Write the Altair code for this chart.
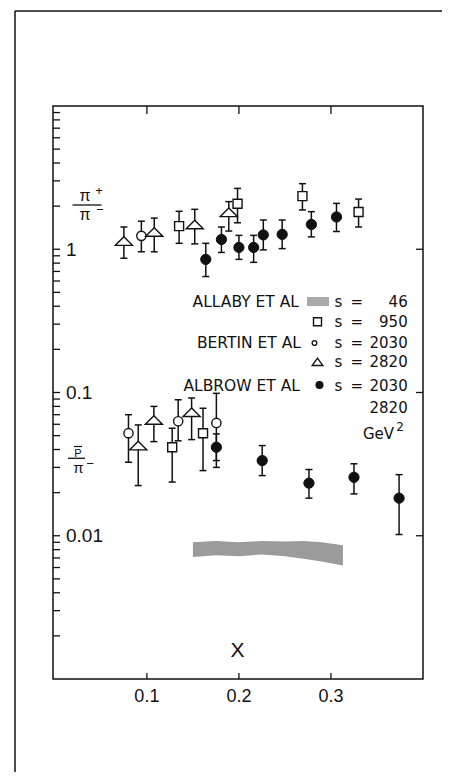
import altair as alt
import pandas as pd

# ---------------- data ----------------
# open squares, s = 950 (pi+/pi- then pbar/pi-)
sq_x = [0.135, 0.1985, 0.269, 0.330, 0.1275, 0.161]
sq_y = [1.45, 2.08, 2.35, 1.82, 0.0415, 0.052]
sq_lo = [1.10, 1.53, 1.88, 1.43, 0.0237, 0.0285]
sq_hi = [1.84, 2.66, 2.87, 2.24, 0.0563, 0.0776]

# open circles, BERTIN s = 2030
oc_x = [0.094, 0.080, 0.134, 0.1755]
oc_y = [1.24, 0.052, 0.063, 0.0613]
oc_lo = [0.96, 0.0326, 0.046, 0.030]
oc_hi = [1.57, 0.070, 0.089, 0.0987]

# open triangles, BERTIN s = 2820
tr_x = [0.075, 0.108, 0.152, 0.189, 0.0906, 0.1076, 0.1486]
tr_y = [1.14, 1.32, 1.49, 1.81, 0.0426, 0.0643, 0.0728]
tr_lo = [0.865, 0.96, 1.09, 1.34, 0.0224, 0.0454, 0.0469]
tr_hi = [1.43, 1.65, 1.90, 2.15, 0.0594, 0.080, 0.0916]

# filled circles, ALBROW s = 2030 / 2820
fc_x = [0.164, 0.181, 0.200, 0.216, 0.2265, 0.247, 0.2787, 0.306,
        0.1755, 0.2253, 0.2761, 0.325, 0.374]
fc_y = [0.85, 1.17, 1.03, 1.03, 1.26, 1.27, 1.49, 1.68,
        0.0415, 0.0335, 0.0233, 0.0256, 0.0183]
fc_lo = [0.645, 0.95, 0.85, 0.81, 0.99, 1.01, 1.22, 1.33,
         0.0335, 0.0263, 0.0183, 0.0196, 0.0102]
fc_hi = [1.10, 1.43, 1.25, 1.25, 1.60, 1.60, 1.83, 2.09,
         0.0514, 0.0426, 0.029, 0.0318, 0.0267]

# ALLABY s = 46 band (pbar/pi-)
band_x = [0.150, 0.175, 0.200, 0.225, 0.250, 0.270, 0.290, 0.313]
band_lo = [0.0071, 0.0073, 0.0072, 0.0074, 0.0072, 0.0069, 0.0066, 0.0062]
band_hi = [0.0090, 0.0092, 0.0090, 0.0092, 0.0091, 0.0092, 0.0090, 0.0086]

x_tick_vals = [0.1, 0.2, 0.3]
x_tick_labels = ["0.1", "0.2", "0.3"]
y_major_vals = [1, 0.1, 0.01]
y_major_labels = ["1", "0.1", "0.01"]
y_minor_vals = [m * 10.0 ** e for e in (-3, -2, -1, 0) for m in range(2, 10)] + [0.01, 0.1, 1]

legend_groups = ["ALLABY ET AL", "BERTIN ET AL", "ALBROW ET AL"]
legend_s = ["46", "950", "2030", "2820", "2030", "2820"]

# ---------------- styling ----------------
INK = "#111111"
W, H = 370, 573
OX, OY = 53, 106  # page position of plot origin
AX = "Liberation Sans"
LF = "DejaVu Sans"

xs = alt.Scale(domain=[-0.002, 0.4], nice=False, zero=False)
ys = alt.Scale(type="log", domain=[0.001, 10], nice=False)
dummy = pd.DataFrame({"a": [0]})


def X(f):
    return alt.X(f, type="quantitative", scale=xs, axis=None)


def Y(f):
    return alt.Y(f, type="quantitative", scale=ys, axis=None)


def Y2(f):
    return alt.Y2(f)


def series(xv, yv, lo, hi):
    return pd.DataFrame({"x": xv, "y": yv, "lo": lo, "hi": hi})


def errlayers(df):
    bar = alt.Chart(df).mark_rule(color=INK, strokeWidth=1.5).encode(
        x=X("x"), y=Y("lo"), y2=Y2("hi"))
    cap1 = alt.Chart(df).mark_point(shape="stroke", size=49, color=INK,
                                    strokeWidth=1.5, opacity=1).encode(x=X("x"), y=Y("lo"))
    cap2 = alt.Chart(df).mark_point(shape="stroke", size=49, color=INK,
                                    strokeWidth=1.5, opacity=1).encode(x=X("x"), y=Y("hi"))
    return [bar, cap1, cap2]


def txt(t, px, py, size=15, align="left", font=LF, baseline="alphabetic"):
    return alt.Chart(dummy).mark_text(
        text=t, align=align, baseline=baseline, fontSize=size, font=font, color=INK
    ).encode(x=alt.value(px - OX), y=alt.value(py - OY))


def hline(x1, x2, py, w=1.3):
    return alt.Chart(dummy).mark_rule(color=INK, strokeWidth=w).encode(
        x=alt.value(x1 - OX), x2=alt.value(x2 - OX), y=alt.value(py - OY))


def sym(px, py, shape, size, filled=False, sw=1.4):
    return alt.Chart(dummy).mark_point(
        shape=shape, size=size, filled=filled, fill=INK if filled else "white",
        stroke=INK, strokeWidth=sw, opacity=1
    ).encode(x=alt.value(px - OX), y=alt.value(py - OY))


TRI = "M-1,0.5L0,-0.5L1,0.5Z"
TRI_L = "M-1,0.75L0,-0.65L1,0.75Z"

sq = series(sq_x, sq_y, sq_lo, sq_hi)
oc = series(oc_x, oc_y, oc_lo, oc_hi)
tr = series(tr_x, tr_y, tr_lo, tr_hi)
fc = series(fc_x, fc_y, fc_lo, fc_hi)
band = pd.DataFrame({"x": band_x, "lo": band_lo, "hi": band_hi})

layers = []

# outer figure frame
layers.append(alt.Chart(dummy).mark_rule(color=INK, strokeWidth=1.5).encode(
    x=alt.value(15 - OX), y=alt.value(11 - OY), y2=alt.value(720)))
layers.append(alt.Chart(dummy).mark_rule(color=INK, strokeWidth=1.5).encode(
    x=alt.value(15 - OX), x2=alt.value(460), y=alt.value(11 - OY)))

# band
layers.append(alt.Chart(band).mark_area(color="#8a8a8a", opacity=0.85, interpolate="linear").encode(
    x=X("x"), y=Y("lo"), y2=Y2("hi")))

# ticks
ldf = pd.DataFrame({"v": y_minor_vals})
layers.append(alt.Chart(ldf).mark_rule(color=INK, strokeWidth=1.3).encode(
    y=Y("v"), x=alt.value(0), x2=alt.value(7)))
rdf = pd.DataFrame({"v": y_major_vals})
layers.append(alt.Chart(rdf).mark_rule(color=INK, strokeWidth=1.3).encode(
    y=Y("v"), x=alt.value(W - 7), x2=alt.value(W)))
xdf = pd.DataFrame({"v": x_tick_vals, "t": x_tick_labels})
layers.append(alt.Chart(xdf).mark_rule(color=INK, strokeWidth=1.3).encode(
    x=X("v"), y=alt.value(0), y2=alt.value(8)))
layers.append(alt.Chart(xdf).mark_rule(color=INK, strokeWidth=1.3).encode(
    x=X("v"), y=alt.value(H), y2=alt.value(H - 6)))

# tick labels
layers.append(alt.Chart(xdf).mark_text(font=AX, fontSize=18, align="center",
                                       baseline="alphabetic", color=INK).encode(
    x=X("v"), y=alt.value(701.5 - OY), text="t:N"))
ydf = pd.DataFrame({"v": y_major_vals, "t": y_major_labels})
layers.append(alt.Chart(ydf).mark_text(font=AX, fontSize=19, align="left",
                                       baseline="alphabetic", dy=6.5, color=INK).encode(
    y=Y("v"), x=alt.value(66 - OX), text="t:N"))

# data: error bars then markers
for df in (sq, oc, tr, fc):
    layers += errlayers(df)
layers.append(alt.Chart(sq).mark_point(shape="square", size=81, fill="white", stroke=INK,
                                       strokeWidth=1.4, opacity=1).encode(x=X("x"), y=Y("y")))
layers.append(alt.Chart(oc).mark_point(shape="circle", size=86, fill="white", stroke=INK,
                                       strokeWidth=1.4, opacity=1).encode(x=X("x"), y=Y("y")))
layers.append(alt.Chart(tr).mark_point(shape=TRI, size=289, fill="white", stroke=INK,
                                       strokeWidth=1.4, opacity=1).encode(x=X("x"), y=Y("y")))
layers.append(alt.Chart(fc).mark_point(shape="circle", size=105, filled=True, fill=INK,
                                       stroke=INK, strokeWidth=1, opacity=1).encode(x=X("x"), y=Y("y")))

# ratio labels
layers += [
    txt("π", 85, 201, 16, "center", AX),
    txt("+", 99, 195, 13, "center", AX),
    hline(72.5, 101.5, 205),
    txt("π", 85, 219.5, 16, "center", AX),
    txt("−", 100, 214, 13, "center", AX),
    txt("P", 78, 456.5, 11, "center", AX),
    hline(74, 82, 446.5, 1.2),
    hline(68, 85, 458.3),
    txt("π", 78.5, 472.5, 15, "center", AX),
    txt("−", 90, 467.5, 13, "center", AX),
    txt("X", 237.5, 657, 21, "center", AX),
]

# legend
rows = [306.7, 327.3, 348.3, 366.7, 390.7, 413.3]
layers += [
    txt(legend_groups[0], 299, rows[0], 15.5, "right"),
    txt(legend_groups[1], 301, rows[2], 15.5, "right"),
    txt(legend_groups[2], 300, rows[4], 15.5, "right"),
]
for i in range(5):
    layers.append(txt("s", 338.3, rows[i], 15, "center"))
    layers.append(txt("=", 356.7, rows[i], 15, "center"))
for i in range(6):
    layers.append(txt(legend_s[i], 407.7, rows[i], 15, "right"))
layers.append(txt("GeV", 394, 439.3, 15, "right"))
layers.append(txt("2", 400, 430.7, 12, "center"))
layers.append(alt.Chart(dummy).mark_rect(color="#9a9a9a", opacity=0.85).encode(
    x=alt.value(307 - OX), x2=alt.value(329 - OX), y=alt.value(297 - OY), y2=alt.value(306 - OY)))
layers += [
    sym(317.5, 321.7, "square", 64),
    sym(314.5, 343, "circle", 22),
    sym(317.5, 361.5, TRI_L, 110),
    sym(319.5, 385, "circle", 45, filled=True),
]

chart = alt.layer(*layers).properties(
    width=W, height=H,
    autosize=alt.AutoSizeParams(type="none"),
    padding={"left": 45, "top": 98, "right": 19, "bottom": 93},
).configure_view(stroke=INK, strokeWidth=1.5)

chart.save("out.html", embed_options={"renderer": "svg", "actions": False})
